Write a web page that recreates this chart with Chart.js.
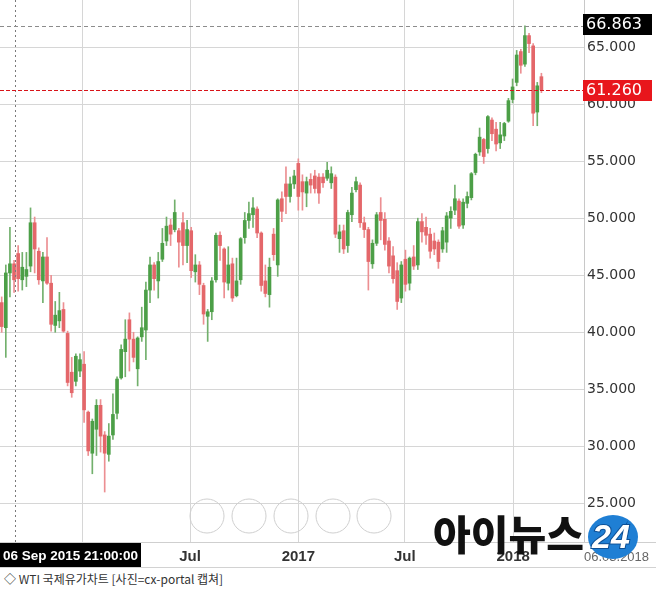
<!DOCTYPE html>
<html>
<head>
<meta charset="utf-8">
<script src="https://cdn.jsdelivr.net/npm/chart.js@4.4.1/dist/chart.umd.min.js"></script>
<style>
  html, body { margin: 0; padding: 0; background: #fff; }
  #wrap { width: 656px; height: 567px; }
  #caption {
    width: 656px; height: 23px; box-sizing: border-box;
    border-top: 1px solid #d2d2d2; padding-left: 4px;
    font: 12px "Noto Sans CJK KR", sans-serif; line-height: 21px; color: #333;
  }
</style>
</head>
<body>
<div id="wrap"><canvas id="wti" width="656" height="567"></canvas></div>
<div id="caption">◇ WTI 국제유가차트 [사진=cx-portal 캡쳐]</div>
<script>
// Weekly WTI candles, first week starting 2015-08-16 (one entry per week)
const firstWeek = '2015-08-16';

const opens = [
  42.6, 40.4, 45.2, 46.0, 46.9, 44.6, 44.9, 45.8, 49.6, 47.1,
  44.5, 46.6, 44.3, 40.6, 41.0, 42.0, 39.9, 36.5, 35.7, 36.6,
  37.2, 33.0, 29.4, 31.5, 33.6, 31.0, 29.3, 31.0, 32.9, 36.0,
  38.3, 41.1, 39.4, 36.8, 39.6, 40.2, 43.7, 45.9, 44.5, 46.4,
  48.0, 49.4, 49.0, 48.9, 49.6, 47.6, 48.9, 45.3, 45.9, 44.1,
  41.4, 41.8, 44.6, 48.5, 47.3, 44.3, 46.0, 43.2, 44.6, 48.3,
  49.8, 50.3, 50.8, 48.7, 44.5, 43.3, 48.6, 45.9, 51.7, 53.0,
  51.9, 53.0, 54.8, 53.2, 52.2, 53.4, 53.7, 53.6, 53.6, 53.5,
  53.1, 53.6, 48.2, 48.9, 47.6, 50.3, 52.5, 52.9, 49.6, 49.0,
  46.0, 47.8, 50.5, 49.9, 48.0, 46.7, 45.4, 43.0, 46.4, 44.3,
  46.6, 45.9, 49.7, 49.2, 48.6, 48.0, 47.9, 47.3, 47.9, 50.0,
  50.7, 51.5, 49.4, 51.3, 51.8, 54.0, 55.8, 56.9, 56.1, 58.6,
  57.8, 56.6, 57.2, 58.5, 60.4, 61.9, 64.6, 63.5, 66.0, 65.1,
  59.3, 62.4
];
const highs = [
  43.1, 45.9, 49.2, 46.3, 47.6, 47.0, 47.0, 50.9, 50.1, 47.4,
  47.0, 48.3, 45.0, 42.7, 43.5, 42.6, 40.1, 37.8, 38.1, 38.1,
  38.3, 33.1, 32.4, 34.1, 34.1, 31.3, 32.0, 34.6, 36.1, 38.9,
  41.1, 41.7, 40.0, 39.6, 42.2, 44.4, 46.6, 46.1, 47.0, 49.1,
  50.1, 49.9, 51.6, 49.1, 50.5, 49.8, 49.2, 46.8, 46.2, 44.3,
  42.0, 44.8, 48.7, 48.8, 47.4, 47.5, 46.5, 46.5, 48.3, 50.5,
  51.4, 51.8, 51.0, 48.8, 45.9, 46.5, 49.1, 51.7, 52.3, 54.5,
  53.6, 54.2, 55.2, 53.8, 53.6, 53.9, 54.2, 53.9, 53.9, 54.9,
  54.5, 53.8, 49.4, 49.4, 50.7, 52.7, 53.6, 53.1, 50.1, 49.2,
  48.1, 50.5, 51.8, 50.5, 48.3, 47.5, 46.1, 46.2, 47.2, 46.6,
  47.6, 50.0, 50.4, 50.1, 49.1, 48.7, 48.1, 49.2, 50.5, 51.0,
  52.9, 51.7, 51.7, 52.3, 54.0, 55.7, 57.9, 57.0, 59.0, 58.8,
  58.4, 58.4, 58.4, 60.5, 62.2, 64.7, 64.8, 66.863, 66.2, 65.3,
  61.9, 62.7
];
const lows = [
  40.0, 37.8, 43.1, 43.5, 43.6, 43.7, 44.0, 45.3, 45.2, 44.2,
  42.6, 44.2, 40.1, 40.0, 40.4, 40.0, 35.3, 34.3, 35.3, 36.1,
  32.1, 29.2, 27.6, 29.2, 29.5, 26.0, 28.7, 30.6, 32.4, 35.9,
  36.1, 36.6, 37.4, 35.3, 39.2, 37.6, 42.6, 43.7, 43.0, 46.2,
  47.6, 47.6, 48.8, 45.7, 45.9, 46.1, 44.8, 44.4, 43.3, 40.7,
  39.2, 41.1, 44.4, 46.3, 43.0, 43.7, 42.7, 43.1, 44.2, 47.8,
  49.1, 49.2, 48.3, 43.6, 43.1, 42.2, 46.3, 44.9, 49.7, 50.4,
  51.4, 52.6, 50.7, 50.7, 51.0, 52.2, 52.2, 51.3, 52.7, 53.3,
  52.6, 48.3, 47.0, 46.9, 47.0, 49.7, 52.3, 49.2, 48.3, 43.7,
  45.6, 47.6, 48.1, 47.2, 45.2, 44.3, 42.0, 42.6, 43.6, 43.7,
  45.5, 45.5, 47.9, 47.7, 46.5, 46.8, 45.6, 47.0, 47.0, 49.1,
  50.3, 49.1, 49.1, 50.9, 51.6, 53.8, 55.5, 54.8, 55.7, 56.8,
  55.9, 56.1, 56.8, 58.4, 60.1, 61.6, 62.7, 63.3, 64.5, 58.1,
  58.1, 61.0
];
const closes = [
  40.5, 45.2, 46.0, 44.6, 44.7, 45.7, 45.5, 49.6, 47.3, 44.6,
  46.6, 44.3, 40.7, 41.5, 41.9, 40.1, 35.6, 34.7, 37.9, 37.6,
  33.2, 29.6, 32.2, 33.6, 30.9, 29.4, 30.9, 32.8, 35.9, 38.5,
  39.4, 39.4, 37.8, 39.5, 40.4, 43.7, 45.9, 44.7, 46.2, 47.8,
  49.3, 48.6, 50.5, 47.9, 47.6, 49.0, 45.4, 45.9, 44.2, 41.6,
  41.8, 44.5, 48.5, 47.6, 44.4, 45.9, 43.0, 44.5, 48.2, 49.8,
  50.4, 50.9, 48.7, 44.1, 43.4, 45.7, 46.8, 51.6, 50.6, 51.9,
  53.0, 53.7, 51.9, 52.3, 53.2, 52.9, 52.6, 52.2, 53.1, 54.2,
  53.9, 48.6, 48.8, 47.3, 50.5, 52.2, 53.2, 49.6, 49.0, 46.2,
  47.8, 50.3, 49.8, 47.7, 45.8, 44.7, 42.7, 45.9, 44.2, 46.5,
  45.8, 49.7, 48.8, 48.5, 47.1, 47.3, 46.2, 48.9, 50.2, 50.6,
  51.7, 49.3, 51.4, 51.9, 53.9, 55.6, 57.1, 55.4, 58.9, 57.4,
  56.5, 57.3, 58.3, 60.3, 61.5, 64.3, 63.4, 66.0, 65.3, 59.2,
  61.6, 61.26
];

// Axis ticks
const monthTicks = ['2016-01-01', '2016-07-01', '2017-01-01', '2017-07-01', '2018-01-01'];
const monthLabels = ['2016', 'Jul', '2017', 'Jul', '2018'];
const priceTicks = [25, 30, 35, 40, 45, 50, 55, 60, 65];

// Marked prices and crosshair
const peakPrice = 66.863;
const lastPrice = 61.26;
const crossDate = '2015-09-06';
const crossText = '06 Sep 2015 21:00:00';
const endText = '06.03.2018';

function weekOf(d) {
  return (Date.parse(d) - Date.parse(firstWeek)) / (7 * 864e5);
}

const up = opens.map((o, i) => closes[i] >= o);

const overlay = {
  id: 'overlay',
  afterDatasetsDraw(chart) {
    const { ctx, chartArea: a, scales: { x, y } } = chart;
    ctx.save();
    ctx.lineWidth = 1;

    // crosshair
    const cx = Math.round(x.getPixelForValue(weekOf(crossDate))) + 1.5;
    ctx.strokeStyle = '#7a7a7a';
    ctx.setLineDash([2, 3]);
    ctx.beginPath(); ctx.moveTo(cx, a.top); ctx.lineTo(cx, a.bottom); ctx.stroke();

    // high line
    const py = Math.round(y.getPixelForValue(peakPrice)) + 0.5;
    ctx.strokeStyle = '#8c8c8c';
    ctx.setLineDash([4, 3]);
    ctx.beginPath(); ctx.moveTo(a.left, py); ctx.lineTo(a.right, py); ctx.stroke();

    // last price line
    const ly = Math.round(y.getPixelForValue(lastPrice)) + 0.5;
    ctx.strokeStyle = '#d8141a';
    ctx.setLineDash([4, 2]);
    ctx.beginPath(); ctx.moveTo(a.left, ly); ctx.lineTo(a.right, ly); ctx.stroke();

    // navigation circles
    ctx.setLineDash([]);
    ctx.strokeStyle = '#cfcfcf';
    [207, 249, 291, 333, 374].forEach(c => {
      ctx.beginPath(); ctx.arc(c, 516, 17, 0, Math.PI * 2); ctx.stroke();
    });
    ctx.restore();
  },
  afterDraw(chart) {
    const { ctx, chartArea: a, scales: { y } } = chart;
    ctx.save();

    // axis strip top line
    ctx.strokeStyle = '#cfcfcf';
    ctx.lineWidth = 1;
    ctx.beginPath(); ctx.moveTo(0, a.bottom + 0.5); ctx.lineTo(656, a.bottom + 0.5); ctx.stroke();

    // crosshair date box
    ctx.fillStyle = '#000';
    ctx.fillRect(0, a.bottom + 1, 141, 25);
    ctx.fillStyle = '#fff';
    ctx.font = 'bold 13.5px "Liberation Sans", Arial, sans-serif';
    ctx.textBaseline = 'middle';
    ctx.textAlign = 'left';
    ctx.fillText(crossText, 3, a.bottom + 14);

    // price boxes on the right
    ctx.font = '16px "DejaVu Sans", sans-serif';
    const py = Math.round(y.getPixelForValue(peakPrice));
    ctx.fillStyle = '#000';
    ctx.fillRect(a.right - 1, py - 12, 69, 21);
    ctx.fillStyle = '#fff';
    ctx.fillText(peakPrice.toFixed(3), a.right + 2, py - 1);

    const ly = Math.round(y.getPixelForValue(lastPrice));
    ctx.fillStyle = '#e8161c';
    ctx.fillRect(a.right - 1, ly - 10, 69, 21);
    ctx.fillStyle = '#fff';
    ctx.fillText(lastPrice.toFixed(3), a.right + 2, ly + 1);

    // end date
    ctx.fillStyle = '#666';
    ctx.font = '13px "Liberation Sans", Arial, sans-serif';
    ctx.fillText(endText, a.right, a.bottom + 15);

    // watermark
    ctx.fillStyle = '#111';
    ctx.font = '900 41px "Noto Sans CJK KR", sans-serif';
    ctx.textBaseline = 'alphabetic';
    ctx.fillText('아이뉴스', 433, 550);
    ctx.fillStyle = '#1f7fd4';
    ctx.beginPath(); ctx.ellipse(613, 537, 25, 22, 0, 0, Math.PI * 2); ctx.fill();
    ctx.font = 'italic bold 34px "Liberation Sans", Arial, sans-serif';
    ctx.textAlign = 'center';
    ctx.textBaseline = 'middle';
    ctx.lineWidth = 2;
    ctx.strokeStyle = '#0d4f94';
    ctx.strokeText('24', 611, 539);
    ctx.fillStyle = '#fff';
    ctx.fillText('24', 611, 539);
    ctx.restore();
  }
};

new Chart(document.getElementById('wti'), {
  type: 'bar',
  data: {
    datasets: [
      {
        label: 'body',
        data: opens.map((o, i) => ({ x: i, y: [o, closes[i]] })),
        backgroundColor: up.map(u => u ? '#4c9f47' : '#e4676a'),
        barThickness: 3,
        grouped: false
      },
      {
        label: 'wick',
        data: lows.map((l, i) => ({ x: i, y: [l, highs[i]] })),
        backgroundColor: up.map(u => u ? '#72b06c' : '#ec8f92'),
        barThickness: 1,
        grouped: false
      }
    ]
  },
  options: {
    responsive: false,
    animation: false,
    layout: { padding: 0 },
    plugins: { legend: { display: false }, tooltip: { enabled: false } },
    scales: {
      x: {
        type: 'linear',
        min: -0.41,
        max: 141.34,
        offset: false,
        afterBuildTicks: axis => { axis.ticks = monthTicks.map(d => ({ value: weekOf(d) })); },
        afterFit: axis => { axis.height = 25; },
        grid: { color: '#d6d6d6', drawTicks: false, offset: false },
        border: { display: false },
        ticks: {
          autoSkip: false,
          maxRotation: 0,
          padding: 6,
          color: '#333',
          font: { family: '"Liberation Sans", Arial, sans-serif', size: 15, weight: 'bold' },
          callback: (v, i) => monthLabels[i]
        }
      },
      y: {
        position: 'right',
        min: 21.62,
        max: 69.12,
        afterBuildTicks: axis => { axis.ticks = priceTicks.map(v => ({ value: v })); },
        afterFit: axis => { axis.width = 72; axis.paddingTop = 0; axis.paddingBottom = 0; },
        grid: { color: '#d6d6d6', drawTicks: false },
        border: { display: true, color: '#c8c8c8' },
        ticks: {
          padding: 3,
          color: '#333',
          font: { family: '"DejaVu Sans", sans-serif', size: 14, lineHeight: 0.01 },
          callback: v => v.toFixed(3)
        }
      }
    }
  },
  plugins: [overlay]
});
</script>
</body>
</html>
